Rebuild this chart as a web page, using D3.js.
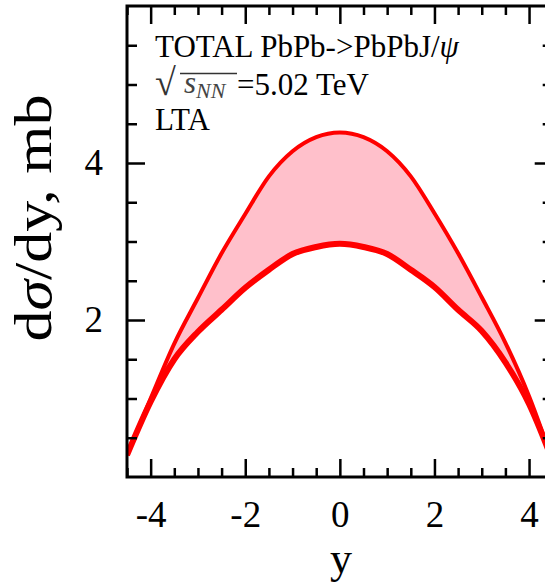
<!DOCTYPE html>
<html>
<head>
<meta charset="utf-8">
<script src="https://cdn.jsdelivr.net/npm/d3@7"></script>
<style>
  html, body { margin: 0; padding: 0; background: #fff; }
  svg { display: block; }
  svg text { font-family: 'Liberation Serif', 'Times New Roman', serif; }
  .axis path { display: none; }
  .axis line { stroke: #000; stroke-width: 2.5; }
  .axis text { font-size: 37px; fill: #000; }
</style>
</head>
<body>
<div id="chart"></div>
<script>
'use strict';

// Rapidity grid and the two curves of the band
const rapidity = [-4.5, -4, -3.5, -3, -2.5, -2, -1.5, -1, -0.5, 0, 0.5, 1, 1.5, 2, 2.5, 3, 3.5, 4, 4.5];
const upperValues = [0.28, 1.00, 1.70, 2.28, 2.85, 3.35, 3.83, 4.15, 4.33, 4.39, 4.33, 4.15, 3.83, 3.36, 2.85, 2.29, 1.71, 1.03, 0.20];
const lowerValues = [0.28, 0.96, 1.50, 1.85, 2.13, 2.41, 2.64, 2.84, 2.93, 2.97, 2.93, 2.84, 2.64, 2.42, 2.13, 1.86, 1.46, 0.93, 0.20];

// Tick labels
const xTicks = [-4, -2, 0, 2, 4];
const yTicks = [2, 4];
const xMinor = d3.range(-4.5, 4.51, 0.5).filter((v) => v % 2 !== 0);
const yMinor = d3.range(0.5, 6, 0.5).filter((v) => v % 2 !== 0);

const width = 545;
const height = 587;

const margin = { top: 6, left: 127, bottom: 110 };
const plotW = 9 * 47.3;
const plotH = height - margin.top - margin.bottom;

const x = d3.scaleLinear().domain([-4.5, 4.5]).range([0, plotW]);
const y = d3.scaleLinear().domain([0, 6]).range([plotH, 0]);

const svg = d3.select('#chart').append('svg')
  .attr('width', width)
  .attr('height', height);

const g = svg.append('g')
  .attr('transform', 'translate(' + margin.left + ',' + margin.top + ')');

g.append('clipPath').attr('id', 'clip')
  .append('rect').attr('width', plotW).attr('height', plotH);

const data = rapidity.map((r, i) => ({ r: r, lo: lowerValues[i], hi: upperValues[i] }));

// Band
const plot = g.append('g').attr('clip-path', 'url(#clip)');

plot.append('path')
  .datum(data)
  .attr('fill', '#ffc0cb')
  .attr('d', d3.area()
    .curve(d3.curveMonotoneX)
    .x((d) => x(d.r))
    .y0((d) => y(d.lo))
    .y1((d) => y(d.hi)));

plot.append('path')
  .datum(data)
  .attr('fill', 'none')
  .attr('stroke', '#ff0000')
  .attr('stroke-width', 4)
  .attr('d', d3.line().curve(d3.curveMonotoneX).x((d) => x(d.r)).y((d) => y(d.hi)));

plot.append('path')
  .datum(data)
  .attr('fill', 'none')
  .attr('stroke', '#ff0000')
  .attr('stroke-width', 6)
  .attr('d', d3.line().curve(d3.curveMonotoneX).x((d) => x(d.r)).y((d) => y(d.lo)));

// Axes, ticks pointing inward on all four sides
const fmt = (d) => d < 0 ? '-' + Math.abs(d) : String(d);

g.append('g').attr('class', 'axis')
  .attr('transform', 'translate(0,' + plotH + ')')
  .call(d3.axisBottom(x).tickValues(xTicks).tickSize(-18).tickPadding(24).tickFormat(fmt));
g.append('g').attr('class', 'axis')
  .attr('transform', 'translate(0,' + plotH + ')')
  .call(d3.axisBottom(x).tickValues(xMinor).tickSize(-9).tickFormat(''));
g.append('g').attr('class', 'axis')
  .call(d3.axisTop(x).tickValues(xTicks).tickSize(-18).tickFormat(''));
g.append('g').attr('class', 'axis')
  .call(d3.axisTop(x).tickValues(xMinor).tickSize(-9).tickFormat(''));

g.append('g').attr('class', 'axis')
  .call(d3.axisLeft(y).tickValues(yTicks).tickSize(-18).tickPadding(24).tickFormat(fmt));
g.append('g').attr('class', 'axis')
  .call(d3.axisLeft(y).tickValues(yMinor).tickSize(-10).tickFormat(''));
g.append('g').attr('class', 'axis')
  .attr('transform', 'translate(' + plotW + ',0)')
  .call(d3.axisRight(y).tickValues(yTicks).tickSize(-18).tickFormat(''));
g.append('g').attr('class', 'axis')
  .attr('transform', 'translate(' + plotW + ',0)')
  .call(d3.axisRight(y).tickValues(yMinor).tickSize(-10).tickFormat(''));

// Frame
g.append('rect')
  .attr('width', plotW)
  .attr('height', plotH)
  .attr('fill', 'none')
  .attr('stroke', '#000')
  .attr('stroke-width', 3);

// Axis titles
svg.append('text')
  .attr('x', 341)
  .attr('y', 573)
  .attr('text-anchor', 'middle')
  .attr('font-size', 44)
  .text('y');

const yTitle = svg.append('text')
  .attr('transform', 'translate(51,218) rotate(-90)')
  .attr('text-anchor', 'middle')
  .attr('font-size', 52)
  .attr('textLength', 247)
  .attr('lengthAdjust', 'spacingAndGlyphs');
yTitle.append('tspan').text('d');
yTitle.append('tspan').attr('font-style', 'italic').text('σ');
yTitle.append('tspan').text('/dy, mb');

// Annotation
const note = svg.append('g').attr('font-size', 31);

const line1 = note.append('text').attr('x', 155).attr('y', 57);
line1.append('tspan').text('TOTAL PbPb->PbPbJ/');
line1.append('tspan').attr('font-style', 'italic').text('ψ');

const line2 = note.append('text').attr('x', 155).attr('y', 95);
line2.append('tspan').attr('font-size', 38).attr('fill', '#333').text('√');
line2.append('tspan').attr('x', 184).attr('dy', -2).attr('font-style', 'italic').attr('fill', '#444').text('s');
line2.append('tspan').attr('font-style', 'italic').attr('font-size', 22).attr('dy', 5).attr('fill', '#444').text('NN');
line2.append('tspan').attr('x', 237).attr('dy', -3).text('=5.02 TeV');
note.append('line')
  .attr('x1', 180).attr('x2', 237)
  .attr('y1', 73.5).attr('y2', 73.5)
  .attr('stroke', '#333')
  .attr('stroke-width', 1.5);

note.append('text').attr('x', 155).attr('y', 130).text('LTA');
</script>
</body>
</html>
